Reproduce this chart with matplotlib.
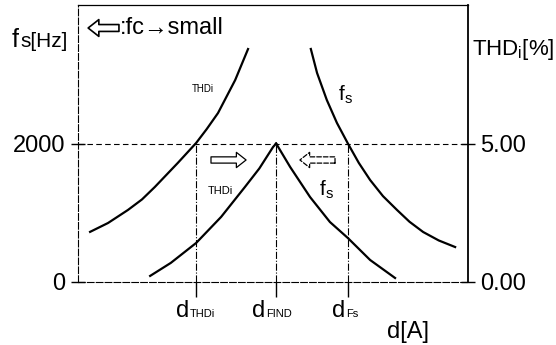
import matplotlib.pyplot as plt

plt.rcParams['font.family'] = ['Liberation Sans', 'DejaVu Sans']
plt.rcParams['mathtext.fontset'] = 'custom'
plt.rcParams['mathtext.rm'] = 'Liberation Sans'

# THDi curves (right axis, %)
thd_hi_x = [0.31, 0.77, 1.28, 1.64, 1.97, 2.56, 3.03, 3.30, 3.59, 4.03, 4.36]
thd_hi_y = [1.81, 2.13, 2.60, 2.98, 3.43, 4.30, 5.02, 5.52, 6.10, 7.29, 8.41]
thd_lo_x = [1.85, 2.38, 3.03, 3.67, 4.28, 4.65, 5.00, 5.08]
thd_lo_y = [0.22, 0.69, 1.41, 2.35, 3.43, 4.10, 4.87, 5.00]

# fs curves (left axis, Hz)
fs_lo_x = [5.08, 5.44, 5.95, 6.46, 6.92, 7.49, 8.13]
fs_lo_y = [2000, 1661, 1227, 866, 635, 318, 58]
fs_hi_x = [5.97, 6.13, 6.38, 6.64, 6.92, 7.20, 7.49, 7.82, 8.18, 8.50, 8.85, 9.25, 9.67]
fs_hi_y = [3365, 3018, 2628, 2296, 2000, 1720, 1473, 1240, 1040, 870, 722, 600, 505]

d_thd, d_find, d_fs = 3.03, 5.08, 6.92
fs_lim = 2000
thd_lim = 5.0

fig = plt.figure(figsize=(5.56, 3.45), dpi=100)
ax = fig.add_axes([78 / 556, 63 / 345, 390 / 556, 277 / 345])
ax2 = ax.twinx()

ax.set_xlim(0, 10)
ax.set_ylim(0, 4000)
ax2.set_ylim(0, 10)

ax2.plot(thd_hi_x, thd_hi_y, color='k', lw=1.6)
ax2.plot(thd_lo_x, thd_lo_y, color='k', lw=1.6)
ax.plot(fs_lo_x, fs_lo_y, color='k', lw=1.6)
ax.plot(fs_hi_x, fs_hi_y, color='k', lw=1.6)

ax.axhline(fs_lim, color='k', lw=0.8, ls=(0, (5, 3)))
ax.vlines([d_thd, d_find, d_fs], 0, fs_lim, color='k', lw=0.8, ls='-.')

# frame
for s in ['left', 'bottom']:
    ax.spines[s].set_linestyle((0, (6, 2)))
    ax.spines[s].set_linewidth(0.8)
ax.spines['top'].set_linewidth(0.9)
ax.spines['right'].set_visible(False)
for s in ['left', 'bottom', 'top']:
    ax2.spines[s].set_visible(False)
ax2.spines['right'].set_linewidth(1.3)

ax.set_xticks([d_thd, d_find, d_fs])
ax.set_xticklabels([])
ax.tick_params(axis='x', direction='out', length=11, width=1)
ax.set_yticks([0, 2000])
ax.set_yticklabels(['0', '2000'], fontsize=17)
ax.tick_params(axis='y', direction='inout', length=10, width=1, pad=4)
ax2.set_yticks([0, 5])
ax2.set_yticklabels(['0.00', '5.00'], fontsize=17)
ax2.tick_params(axis='y', direction='inout', length=10, width=1, pad=4)

# x tick labels: d with small subscripts
xlabels = [(d_thd, 'THDi', -7), (d_find, 'FIND', -11), (d_fs, 'Fs', -3)]
for xv, sub, off in xlabels:
    ax.annotate('d', xy=(xv, 0), xycoords=('data', 'axes fraction'),
                xytext=(off, -35), textcoords='offset pixels',
                ha='right', va='baseline', fontsize=17)
    ax.annotate(sub, xy=(xv, 0), xycoords=('data', 'axes fraction'),
                xytext=(off + 1, -35), textcoords='offset pixels',
                ha='left', va='baseline', fontsize=8)

fig.text(408 / 556, 1 - 338 / 345, 'd[A]', fontsize=17, ha='center', va='baseline')
fig.text(12 / 556, 1 - 47 / 345, 'f', fontsize=18, ha='left', va='baseline')
fig.text(20 / 556, 1 - 47 / 345, 's[Hz]', fontsize=15, ha='left', va='baseline')
fig.text(472 / 556, 1 - 55 / 345, r'THD$_\mathrm{i}$[%]', fontsize=16, ha='left', va='baseline')

# legend note: hollow arrow = fc made smaller
arrow_style = 'simple,head_length=0.7,head_width=1.1,tail_width=0.45'
ax.annotate('', xy=(0.026, 0.917), xycoords='axes fraction',
            xytext=(0.105, 0.917),
            arrowprops=dict(arrowstyle=arrow_style, fc='white', ec='k', lw=1.2,
                            mutation_scale=11, shrinkA=0, shrinkB=0))
ax.text(0.108, 0.917, ':fc→small', transform=ax.transAxes, fontsize=17,
        ha='left', va='center')

# curve labels
ax.text(3.2, 2780, 'THDi', fontsize=7, ha='center', va='center')
ax.text(3.64, 1310, 'THDi', fontsize=8, ha='center', va='center')
ax.text(6.85, 2700, r'f$_\mathrm{s}$', fontsize=15, ha='center', va='center')
ax.text(6.37, 1340, r'f$_\mathrm{s}$', fontsize=15, ha='center', va='center')

# shift direction arrows
ax.annotate('', xy=(4.31, 1762), xytext=(3.41, 1762),
            arrowprops=dict(arrowstyle=arrow_style, fc='white', ec='k', lw=0.9,
                            mutation_scale=10, shrinkA=0, shrinkB=0))
ax.annotate('', xy=(5.69, 1762), xytext=(6.59, 1762),
            arrowprops=dict(arrowstyle=arrow_style, fc='white', ec='k', lw=0.9,
                            ls='--', mutation_scale=10, shrinkA=0, shrinkB=0))

fig.savefig('out.png', dpi=100)
